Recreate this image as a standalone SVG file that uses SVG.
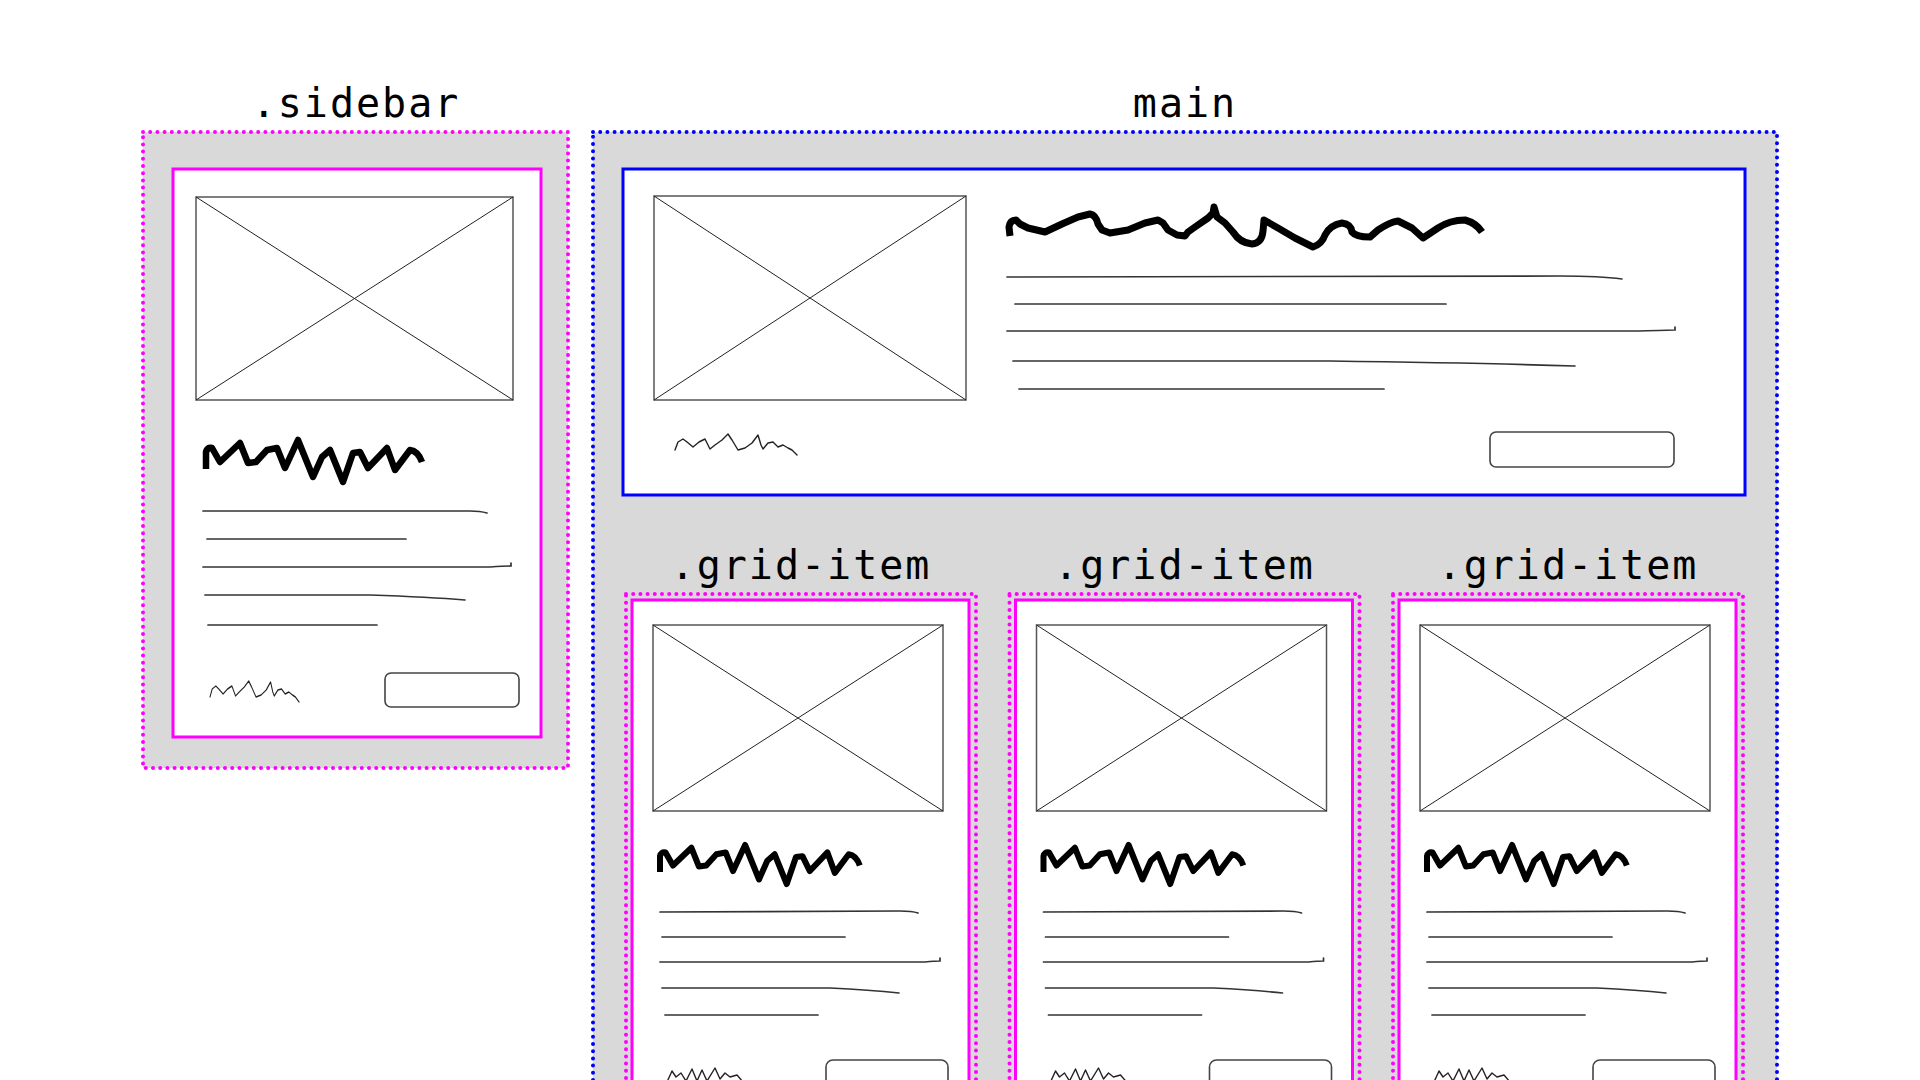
<svg xmlns="http://www.w3.org/2000/svg" xmlns:xlink="http://www.w3.org/1999/xlink" width="1920" height="1080" viewBox="0 0 1920 1080">
<style>
.bg{fill:#ffffff}
.dotm{fill:#d9d9d9;stroke:#ff00ff;stroke-width:4;stroke-dasharray:0 7.2;stroke-linecap:round}
.dotb{fill:#d9d9d9;stroke:#0000ff;stroke-width:4;stroke-dasharray:0 7.2;stroke-linecap:round}
.cardm{fill:#ffffff;stroke:#ff00ff;stroke-width:3}
.cardb{fill:#ffffff;stroke:#0000ff;stroke-width:3}
.imgbox{fill:#ffffff;stroke:#555555;stroke-width:1.5}
.diag{stroke:#222222;stroke-width:1}
.sq{fill:none;stroke:#000000;stroke-width:6.5;stroke-linejoin:round;stroke-linecap:butt}
.sqh{fill:none;stroke:#000000;stroke-width:7;stroke-linejoin:round;stroke-linecap:butt}
.txt{fill:none;stroke:#333333;stroke-width:1.7;stroke-linecap:round}
.sig{fill:none;stroke:#222222;stroke-width:1.4;stroke-linejoin:round;stroke-linecap:round}
.btn{fill:#ffffff;stroke:#444444;stroke-width:1.6}
.label{font-family:"DejaVu Sans Mono","Liberation Mono",monospace;font-size:40px;letter-spacing:2px;fill:#000000;text-anchor:middle}
</style>
<defs>
<path id="sq" d="M0,29 L0,12 Q1,7 6,8 L14,22 L34,3 L42,23 L50,22 L61,10 L71,8 L79,28 L92,0 L107,37 L116,17 L124,10 L137,42 L147,13 L154,12 L162,28 L181,8 L189,30 L204,10 Q212,11 216,22"/>
<path id="sig" d="M0,17 L3,9 L8,6 L12,9 L18,14 L24,9 L30,6 L35,16 L40,12 L47,7 L53,1 L57,7 L63,17 L70,15 L77,10 L83,2 L86,12 L88,16 L93,10 L98,9 L103,14 L108,12 L113,15 L117,17 L122,22"/>
<path id="sig2" d="M0,15 L5,4 L9,10 L14,6 L19,14 L25,2 L30,14 L35,3 L40,14 L48,1 L53,12 L58,6 L63,10 L70,8 L76,15"/>
<g id="gi">
<rect class="dotm" x="626" y="594" width="350" height="540"/>
<rect class="cardm" x="632" y="600" width="337" height="540"/>
<rect class="imgbox" x="653" y="625" width="290" height="186"/>
<line class="diag" x1="653" y1="625" x2="943" y2="811"/>
<line class="diag" x1="653" y1="811" x2="943" y2="625"/>
<use xlink:href="#sq" href="#sq" class="sq" transform="translate(660,845) scale(0.925,0.93)"/>
<path class="txt" d="M660,912 L900,911 Q912,911 918,913"/>
<path class="txt" d="M662,937 L845,937"/>
<path class="txt" d="M660,962 L925,962 Q935,961 940,961 L940,958"/>
<path class="txt" d="M662,988 L830,988 Q870,990 899,993"/>
<path class="txt" d="M665,1015 L818,1015"/>
<use xlink:href="#sig2" href="#sig2" class="sig" transform="translate(667,1067)"/>
<rect class="btn" x="826" y="1060" width="122" height="40" rx="7"/>
</g>
</defs>
<rect class="bg" x="0" y="0" width="1920" height="1080"/>

<g id="sidebar">
<text class="label" x="356" y="117">.sidebar</text>
<rect class="dotm" x="143" y="132" width="425" height="636"/>
<g id="sidebar-card">
<rect class="cardm" x="173" y="169" width="368" height="568"/>
<rect class="imgbox" x="196" y="197" width="317" height="203"/>
<line class="diag" x1="196" y1="197" x2="513" y2="400"/>
<line class="diag" x1="196" y1="400" x2="513" y2="197"/>
<use xlink:href="#sq" href="#sq" class="sq" transform="translate(206,440)"/>
<path class="txt" d="M203,511 L470,511 Q480,511 487,513"/>
<path class="txt" d="M207,539 L406,539"/>
<path class="txt" d="M203,567 L490,567 Q505,566 511,566 L511,563"/>
<path class="txt" d="M205,595 L370,595 Q430,597 465,600"/>
<path class="txt" d="M208,625 L377,625"/>
<use xlink:href="#sig" href="#sig" class="sig" transform="translate(210,680) scale(0.73,1)"/>
<rect class="btn" x="385" y="673" width="134" height="34" rx="6"/>
</g>
</g>

<g id="main">
<text class="label" x="1185" y="117">main</text>
<rect class="dotb" x="593" y="132" width="1184" height="1000"/>
</g>

<g id="hero">
<rect class="cardb" x="623" y="169" width="1122" height="326"/>
<rect class="imgbox" x="654" y="196" width="312" height="204"/>
<line class="diag" x1="654" y1="196" x2="966" y2="400"/>
<line class="diag" x1="654" y1="400" x2="966" y2="196"/>
<path class="sqh" d="M1010,236 L1009,227 Q1010,220 1016,220 L1020,224 L1028,228 L1045,232 L1062,224 L1078,217 L1090,214 Q1096,215 1098,224 L1102,230 L1110,233 L1128,230 L1145,223 L1158,220 L1163,223 L1168,230 L1177,235 L1185,236 L1188,232 L1195,227 L1208,218 L1213,213 L1214,207 L1217,217 L1225,223 L1233,232 Q1240,243 1252,244 Q1262,243 1263,231 L1264,220 L1278,228 L1295,238 L1313,247 Q1322,244 1325,235 Q1330,225 1342,223 Q1351,224 1352,232 Q1356,237 1370,237 L1378,230 Q1390,222 1398,221 L1412,228 L1423,238 L1438,228 Q1450,220 1465,220 Q1476,223 1482,232"/>
<path class="txt" d="M1007,277 L1560,276 Q1600,276 1622,279"/>
<path class="txt" d="M1015,304 L1446,304"/>
<path class="txt" d="M1007,331 L1640,331 Q1668,330 1675,330 L1675,327"/>
<path class="txt" d="M1013,361 L1330,361 Q1480,363 1575,366"/>
<path class="txt" d="M1019,389 L1384,389"/>
<use xlink:href="#sig" href="#sig" class="sig" transform="translate(675,433)"/>
<rect class="btn" x="1490" y="432" width="184" height="35" rx="6"/>
</g>

<g id="grid-item-1">
<use xlink:href="#gi" href="#gi"/>
<text class="label" x="801" y="579">.grid-item</text>
</g>
<g id="grid-item-2">
<use xlink:href="#gi" href="#gi" transform="translate(383.5,0)"/>
<text class="label" x="1184.5" y="579">.grid-item</text>
</g>
<g id="grid-item-3">
<use xlink:href="#gi" href="#gi" transform="translate(767,0)"/>
<text class="label" x="1568" y="579">.grid-item</text>
</g>

<g id="connectors"></g>
</svg>
